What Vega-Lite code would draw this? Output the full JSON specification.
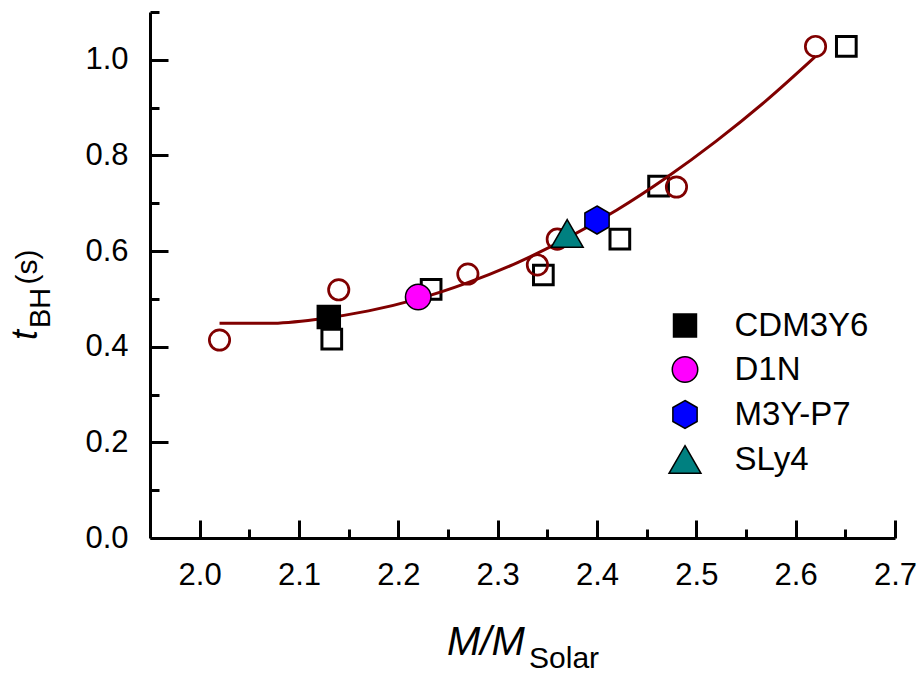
{
  "$schema": "https://vega.github.io/schema/vega-lite/v6.json",
  "width": 745,
  "height": 526,
  "autosize": {"type": "none"},
  "padding": {"left": 150, "top": 12, "right": 24, "bottom": 135},
  "background": "white",
  "config": {
    "font": "Liberation Sans",
    "view": {"stroke": null},
    "axis": {
      "domainColor": "black",
      "domainWidth": 3,
      "tickColor": "black",
      "tickWidth": 3,
      "labelColor": "black",
      "labelFont": "Liberation Sans",
      "labelFontSize": 31,
      "grid": false
    }
  },
  "datasets": {
    "squares": [
      {"x": 2.133, "y": 0.416},
      {"x": 2.233, "y": 0.520},
      {"x": 2.346, "y": 0.550},
      {"x": 2.423, "y": 0.625},
      {"x": 2.462, "y": 0.736},
      {"x": 2.651, "y": 1.028}
    ],
    "circles": [
      {"x": 2.02, "y": 0.414},
      {"x": 2.14, "y": 0.519},
      {"x": 2.27, "y": 0.552},
      {"x": 2.34, "y": 0.571},
      {"x": 2.36, "y": 0.625},
      {"x": 2.48, "y": 0.734},
      {"x": 2.62, "y": 1.028}
    ],
    "curve": [
      {"x": 2.02, "y": 0.449},
      {"x": 2.07, "y": 0.449},
      {"x": 2.12, "y": 0.458},
      {"x": 2.17, "y": 0.475},
      {"x": 2.22, "y": 0.500},
      {"x": 2.27, "y": 0.534},
      {"x": 2.32, "y": 0.576},
      {"x": 2.37, "y": 0.627},
      {"x": 2.42, "y": 0.686},
      {"x": 2.47, "y": 0.754},
      {"x": 2.52, "y": 0.830},
      {"x": 2.57, "y": 0.914},
      {"x": 2.62, "y": 1.007}
    ],
    "models": [
      {"model": "CDM3Y6", "x": 2.13, "y": 0.462},
      {"model": "D1N", "x": 2.22, "y": 0.504},
      {"model": "M3Y-P7", "x": 2.40, "y": 0.665},
      {"model": "SLy4", "x": 2.37, "y": 0.637}
    ],
    "xtitle1": [{"t": "M/M"}],
    "xtitle2": [{"t": "Solar"}],
    "ytitle1": [{"t": "t"}],
    "ytitle2": [{"t": "BH"}],
    "ytitle3": [{"t": "(s)"}]
  },
  "layer": [
    {
      "data": {"name": "squares"},
      "mark": {"type": "point", "shape": "square", "filled": false, "stroke": "black", "strokeWidth": 3, "size": 388, "opacity": 1},
      "encoding": {
        "x": {
          "field": "x", "type": "quantitative",
          "scale": {"domain": [1.95, 2.7], "nice": false, "zero": false},
          "axis": {"values": [2.0, 2.1, 2.2, 2.3, 2.4, 2.5, 2.6, 2.7], "format": ".1f", "title": null, "tickSize": -18, "labelPadding": 40, "orient": "bottom", "labelFlush": false, "labelOverlap": false}
        },
        "y": {
          "field": "y", "type": "quantitative",
          "scale": {"domain": [0, 1.1], "nice": false, "zero": false},
          "axis": {"values": [0, 0.2, 0.4, 0.6, 0.8, 1.0], "format": ".1f", "title": null, "tickSize": -18, "labelPadding": 40, "orient": "left", "labelFlush": false, "labelOverlap": false}
        }
      }
    },
    {
      "data": {"name": "circles"},
      "mark": {"type": "point", "shape": "circle", "filled": false, "stroke": "#800000", "strokeWidth": 2.7, "size": 415, "opacity": 1},
      "encoding": {
        "x": {"field": "x", "type": "quantitative", "axis": null},
        "y": {"field": "y", "type": "quantitative", "axis": null}
      }
    },
    {
      "data": {"name": "curve"},
      "mark": {"type": "line", "color": "#800000", "strokeWidth": 3, "interpolate": "monotone"},
      "encoding": {
        "x": {"field": "x", "type": "quantitative", "axis": {"values": [2.05, 2.15, 2.25, 2.35, 2.45, 2.55, 2.65], "labels": false, "domain": false, "tickSize": -9, "title": null, "orient": "bottom"}},
        "y": {"field": "y", "type": "quantitative", "axis": {"values": [0.1, 0.3, 0.5, 0.7, 0.9, 1.1], "labels": false, "domain": false, "tickSize": -9, "title": null, "orient": "left"}}
      }
    },
    {
      "data": {"name": "models"},
      "mark": {"type": "point", "filled": true, "stroke": "black", "strokeWidth": 1.5, "opacity": 1},
      "encoding": {
        "x": {"field": "x", "type": "quantitative", "axis": null},
        "y": {"field": "y", "type": "quantitative", "axis": null},
        "shape": {
          "field": "model", "type": "nominal",
          "scale": {
            "domain": ["CDM3Y6", "D1N", "M3Y-P7", "SLy4"],
            "range": [
              "M-0.82,-0.82H0.82V0.82H-0.82Z",
              "M0.91,0A0.91,0.91,0,1,1,-0.91,0A0.91,0.91,0,1,1,0.91,0Z",
              "M0,-1L0.866,-0.5L0.866,0.5L0,1L-0.866,0.5L-0.866,-0.5Z",
              "M0,-0.99L1.14,0.99L-1.14,0.99Z"
            ]
          },
          "legend": null
        },
        "fill": {
          "field": "model", "type": "nominal",
          "scale": {"domain": ["CDM3Y6", "D1N", "M3Y-P7", "SLy4"], "range": ["#000000", "#ff00ff", "#0000ff", "#008080"]},
          "legend": null
        },
        "size": {
          "field": "model", "type": "ordinal",
          "scale": {"domain": ["CDM3Y6", "D1N", "M3Y-P7", "SLy4"], "range": [784, 784]},
          "legend": {
            "title": null,
            "orient": "none",
            "legendX": 518.5,
            "legendY": 297,
            "padding": 0,
            "symbolOpacity": 1,
            "labelFont": "Liberation Sans",
            "labelFontSize": 33,
            "labelColor": "black",
            "labelOffset": 33,
            "rowPadding": 10,
            "encode": {
              "symbols": {
                "stroke": {"value": "black"},
                "strokeWidth": {"value": 1.5},
                "opacity": {"value": 1}
              }
            }
          }
        }
      }
    },
    {
      "data": {"name": "xtitle1"},
      "mark": {"type": "text", "font": "Liberation Sans", "fontStyle": "italic", "fontSize": 40, "align": "left", "baseline": "alphabetic", "color": "black", "dy": 117},
      "encoding": {
        "x": {"datum": 2.249, "type": "quantitative", "axis": null},
        "y": {"datum": 0, "type": "quantitative", "axis": null},
        "text": {"field": "t"}
      }
    },
    {
      "data": {"name": "xtitle2"},
      "mark": {"type": "text", "font": "Liberation Sans", "fontSize": 30, "align": "left", "baseline": "alphabetic", "color": "black", "dy": 130},
      "encoding": {
        "x": {"datum": 2.3316, "type": "quantitative", "axis": null},
        "y": {"datum": 0, "type": "quantitative", "axis": null},
        "text": {"field": "t"}
      }
    },
    {
      "data": {"name": "ytitle1"},
      "mark": {"type": "text", "font": "Liberation Sans", "fontStyle": "italic", "fontSize": 36, "align": "left", "baseline": "alphabetic", "color": "black", "angle": 270, "dy": -113},
      "encoding": {
        "x": {"datum": 1.95, "type": "quantitative", "axis": null},
        "y": {"datum": 0.414, "type": "quantitative", "axis": null},
        "text": {"field": "t"}
      }
    },
    {
      "data": {"name": "ytitle2"},
      "mark": {"type": "text", "font": "Liberation Sans", "fontSize": 29, "align": "left", "baseline": "alphabetic", "color": "black", "angle": 270, "dy": -100},
      "encoding": {
        "x": {"datum": 1.95, "type": "quantitative", "axis": null},
        "y": {"datum": 0.439, "type": "quantitative", "axis": null},
        "text": {"field": "t"}
      }
    },
    {
      "data": {"name": "ytitle3"},
      "mark": {"type": "text", "font": "Liberation Sans", "fontSize": 30, "align": "left", "baseline": "alphabetic", "color": "black", "angle": 270, "dy": -113},
      "encoding": {
        "x": {"datum": 1.95, "type": "quantitative", "axis": null},
        "y": {"datum": 0.53, "type": "quantitative", "axis": null},
        "text": {"field": "t"}
      }
    }
  ],
  "resolve": {"axis": {"x": "independent", "y": "independent"}}
}
